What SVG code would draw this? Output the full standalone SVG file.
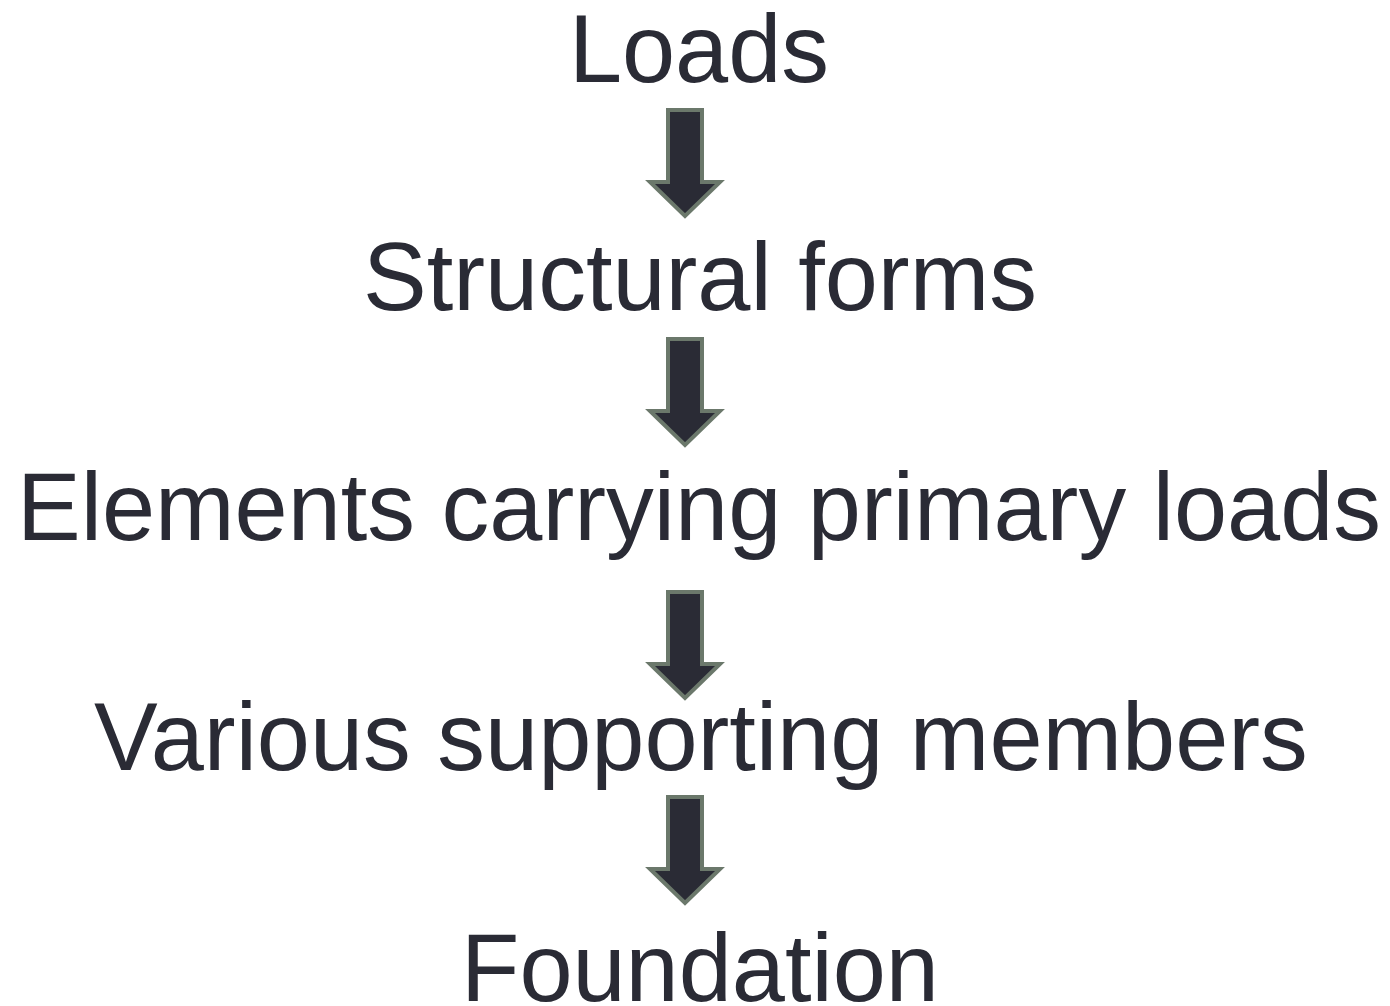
<svg xmlns="http://www.w3.org/2000/svg" width="1390" height="1006" viewBox="0 0 1390 1006">
<style>
.t{font-family:"Liberation Sans",Arial,sans-serif;font-size:95.5px;fill:#2a2b35;text-anchor:middle}
.a{fill:#2a2b35;stroke:#6b786b;stroke-width:4;stroke-linejoin:miter}
</style>
<defs>
<path id="arr" d="M-17,0 H17 V72 H35 L0,106 L-35,72 H-17 Z"/>
</defs>
<g id="connectors">
<use href="#arr" class="a" x="685" y="110"/>
<use href="#arr" class="a" x="685" y="339"/>
<use href="#arr" class="a" x="685" y="592"/>
<use href="#arr" class="a" x="685" y="797"/>
</g>
<g id="n1"><text class="t" x="699" y="82">Loads</text></g>
<g id="n2"><text class="t" x="700" y="310">Structural forms</text></g>
<g id="n3"><text class="t" x="699" y="540">Elements carrying primary loads</text></g>
<g id="n4"><text class="t" x="701" y="770">Various supporting members</text></g>
<g id="n5"><text class="t" x="700" y="1001">Foundation</text></g>
</svg>
